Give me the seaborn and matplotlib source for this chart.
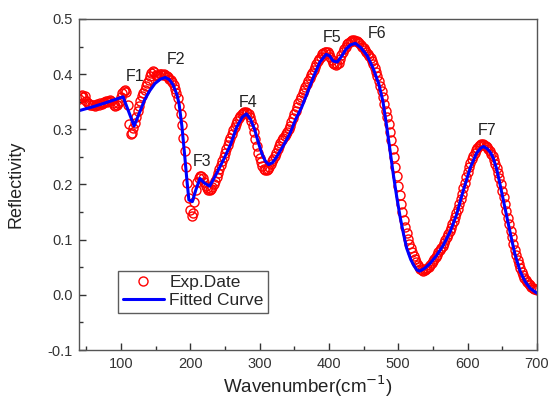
import numpy as np
import pandas as pd
import matplotlib
matplotlib.use('Agg')
import matplotlib.pyplot as plt
import seaborn as sns
from matplotlib.ticker import MultipleLocator

# Experimental reflectivity, sampled every 2 cm-1 from 40 to 700
exp_x = np.arange(40, 701, 2)
exp_y = [
    0.355, 0.360, 0.362, 0.358, 0.360, 0.352, 0.348, 0.346, 0.345, 0.344,  # 40
    0.345, 0.343, 0.344, 0.346, 0.345, 0.347, 0.346, 0.348, 0.350, 0.351,  # 60
    0.349, 0.352, 0.354, 0.351, 0.348, 0.344, 0.342, 0.345, 0.348, 0.352,  # 80
    0.358, 0.365, 0.370, 0.372, 0.368, 0.345, 0.310, 0.292, 0.293, 0.302,  # 100
    0.312, 0.322, 0.333, 0.343, 0.352, 0.360, 0.366, 0.372, 0.378, 0.384,  # 120
    0.390, 0.396, 0.402, 0.406, 0.404, 0.399, 0.397, 0.399, 0.401, 0.400,  # 140
    0.398, 0.400, 0.398, 0.396, 0.394, 0.392, 0.390, 0.386, 0.381, 0.374,  # 160
    0.366, 0.356, 0.343, 0.327, 0.307, 0.285, 0.260, 0.232, 0.203, 0.175,  # 180
    0.153, 0.143, 0.148, 0.168, 0.190, 0.205, 0.212, 0.216, 0.216, 0.212,  # 200
    0.205, 0.198, 0.193, 0.190, 0.190, 0.192, 0.196, 0.201, 0.207, 0.214,  # 220
    0.221, 0.228, 0.235, 0.242, 0.250, 0.257, 0.264, 0.271, 0.278, 0.285,  # 240
    0.292, 0.298, 0.304, 0.310, 0.315, 0.320, 0.324, 0.327, 0.330, 0.331,  # 260
    0.331, 0.330, 0.327, 0.322, 0.315, 0.306, 0.295, 0.283, 0.270, 0.258,  # 280
    0.248, 0.240, 0.233, 0.228, 0.226, 0.226, 0.228, 0.232, 0.237, 0.242,  # 300
    0.247, 0.252, 0.258, 0.264, 0.270, 0.275, 0.280, 0.285, 0.288, 0.291,  # 320
    0.295, 0.300, 0.306, 0.313, 0.320, 0.327, 0.334, 0.341, 0.347, 0.353,  # 340
    0.359, 0.365, 0.371, 0.377, 0.382, 0.388, 0.393, 0.398, 0.403, 0.408,  # 360
    0.413, 0.418, 0.423, 0.427, 0.432, 0.436, 0.439, 0.441, 0.441, 0.440,  # 380
    0.437, 0.432, 0.426, 0.421, 0.418, 0.417, 0.418, 0.421, 0.427, 0.434,  # 400
    0.440, 0.446, 0.450, 0.454, 0.457, 0.459, 0.461, 0.462, 0.462, 0.461,  # 420
    0.460, 0.458, 0.456, 0.453, 0.450, 0.447, 0.444, 0.441, 0.437, 0.433,  # 440
    0.429, 0.424, 0.418, 0.412, 0.404, 0.396, 0.388, 0.379, 0.369, 0.358,  # 460
    0.346, 0.334, 0.322, 0.309, 0.296, 0.281, 0.265, 0.249, 0.232, 0.215,  # 480
    0.198, 0.181, 0.165, 0.150, 0.136, 0.123, 0.112, 0.102, 0.093, 0.085,  # 500
    0.078, 0.071, 0.065, 0.059, 0.054, 0.050, 0.047, 0.045, 0.044, 0.045,  # 520
    0.046, 0.048, 0.051, 0.054, 0.057, 0.061, 0.065, 0.069, 0.073, 0.077,  # 540
    0.081, 0.085, 0.089, 0.094, 0.099, 0.104, 0.110, 0.116, 0.122, 0.128,  # 560
    0.134, 0.141, 0.148, 0.156, 0.165, 0.174, 0.183, 0.193, 0.203, 0.213,  # 580
    0.222, 0.231, 0.239, 0.246, 0.252, 0.257, 0.262, 0.266, 0.269, 0.271,  # 600
    0.273, 0.273, 0.272, 0.270, 0.268, 0.265, 0.261, 0.256, 0.251, 0.245,  # 620
    0.238, 0.230, 0.221, 0.211, 0.200, 0.189, 0.177, 0.165, 0.152, 0.140,  # 640
    0.128, 0.116, 0.104, 0.093, 0.082, 0.072, 0.063, 0.055, 0.048, 0.042,  # 660
    0.036, 0.031, 0.027, 0.023, 0.020, 0.017, 0.015, 0.013, 0.011, 0.010,  # 680
    0.009,                                                                 # 700
]

# Fitted curve
fit_x = [40, 60, 80, 103, 110, 119, 127, 134, 141, 149, 157, 164, 170, 175,
         178, 181, 184, 188, 192, 195, 198, 203, 208, 214, 220, 228, 238, 248,
         258, 267, 275, 281, 287, 293, 298, 303, 308, 313, 319, 325, 335, 344,
         352, 361, 370, 378, 387, 396, 401, 406, 412, 418, 425, 431, 438, 446,
         455, 464, 472, 478, 483, 488, 493, 498, 503, 508, 512, 518, 523, 527,
         531, 538, 546, 555, 565, 575, 584, 594, 604, 613, 619, 623, 628, 633,
         637, 642, 647, 654, 661, 668, 676, 683, 690, 700]
fit_y = [0.334, 0.341, 0.349, 0.359, 0.336, 0.306, 0.331, 0.353, 0.369, 0.383,
         0.391, 0.394, 0.390, 0.381, 0.372, 0.362, 0.345, 0.305, 0.252, 0.210,
         0.172, 0.169, 0.190, 0.211, 0.203, 0.197, 0.220, 0.245, 0.272, 0.304,
         0.322, 0.328, 0.318, 0.299, 0.277, 0.257, 0.243, 0.236, 0.240, 0.251,
         0.272, 0.293, 0.318, 0.341, 0.370, 0.396, 0.422, 0.436, 0.433, 0.424,
         0.422, 0.432, 0.446, 0.453, 0.456, 0.448, 0.434, 0.410, 0.382, 0.350,
         0.308, 0.263, 0.217, 0.176, 0.139, 0.108, 0.085, 0.064, 0.052, 0.045,
         0.043, 0.048, 0.057, 0.071, 0.090, 0.115, 0.145, 0.190, 0.231, 0.257,
         0.266, 0.269, 0.265, 0.258, 0.248, 0.228, 0.199, 0.157, 0.115, 0.075,
         0.042, 0.024, 0.012, 0.003]

# Peak labels
peak_names = ['F1', 'F2', 'F3', 'F4', 'F5', 'F6', 'F7']
peak_x = [120, 180, 217, 284, 405, 470, 628]
peak_y = [0.396, 0.426, 0.241, 0.348, 0.466, 0.474, 0.297]

df_exp = pd.DataFrame({'x': exp_x, 'y': exp_y})
df_fit = pd.DataFrame({'x': fit_x, 'y': fit_y})

sns.set_style('ticks')
plt.rcParams['font.family'] = ['Liberation Sans', 'DejaVu Sans']

fig = plt.figure(figsize=(5.49, 4.0), dpi=100)
ax = fig.add_axes([0.1445, 0.125, 0.8335, 0.8275])

sns.lineplot(data=df_exp, x='x', y='y', ax=ax, estimator=None, sort=False,
             linestyle='', marker='o', markersize=6.5, markerfacecolor='none',
             markeredgecolor='red', markeredgewidth=1.0, color='red',
             label='Exp.Date')
sns.lineplot(data=df_fit, x='x', y='y', ax=ax, estimator=None, sort=False,
             color='blue', linewidth=2.2, label='Fitted Curve')

for name, px, py in zip(peak_names, peak_x, peak_y):
    ax.text(px, py, name, ha='center', va='center', fontsize=11.5, color='#222222')

ax.set_xlim(40, 700)
ax.set_ylim(-0.1, 0.5)
ax.xaxis.set_major_locator(MultipleLocator(100))
ax.xaxis.set_minor_locator(MultipleLocator(50))
ax.yaxis.set_major_locator(MultipleLocator(0.1))
ax.yaxis.set_minor_locator(MultipleLocator(0.05))
ax.yaxis.set_major_formatter(matplotlib.ticker.FormatStrFormatter('%.1f'))
ax.tick_params(which='both', direction='in', top=False, right=False,
               labelsize=10.5, colors='#333333', pad=5)
ax.tick_params(which='major', length=5, width=1)
ax.tick_params(which='minor', length=3, width=1)
for sp in ax.spines.values():
    sp.set_color('#555555')
    sp.set_linewidth(1)

ax.set_xlabel('Wavenumber(cm$^{-1}$)', fontsize=13.5, color='#222222')
ax.set_ylabel('Reflectivity', fontsize=13, color='#222222')
ax.xaxis.set_label_coords(0.5, -0.072)
ax.yaxis.set_label_coords(-0.12, 0.5)

leg = ax.legend(loc='lower left', bbox_to_anchor=(0.085, 0.113), fontsize=12.5,
                frameon=True, fancybox=False, edgecolor='#333333',
                handlelength=2.4, borderpad=0.25, labelspacing=0.15,
                handletextpad=0.3, borderaxespad=0)
leg.get_frame().set_linewidth(1)

fig.savefig('out.png', dpi=100)
